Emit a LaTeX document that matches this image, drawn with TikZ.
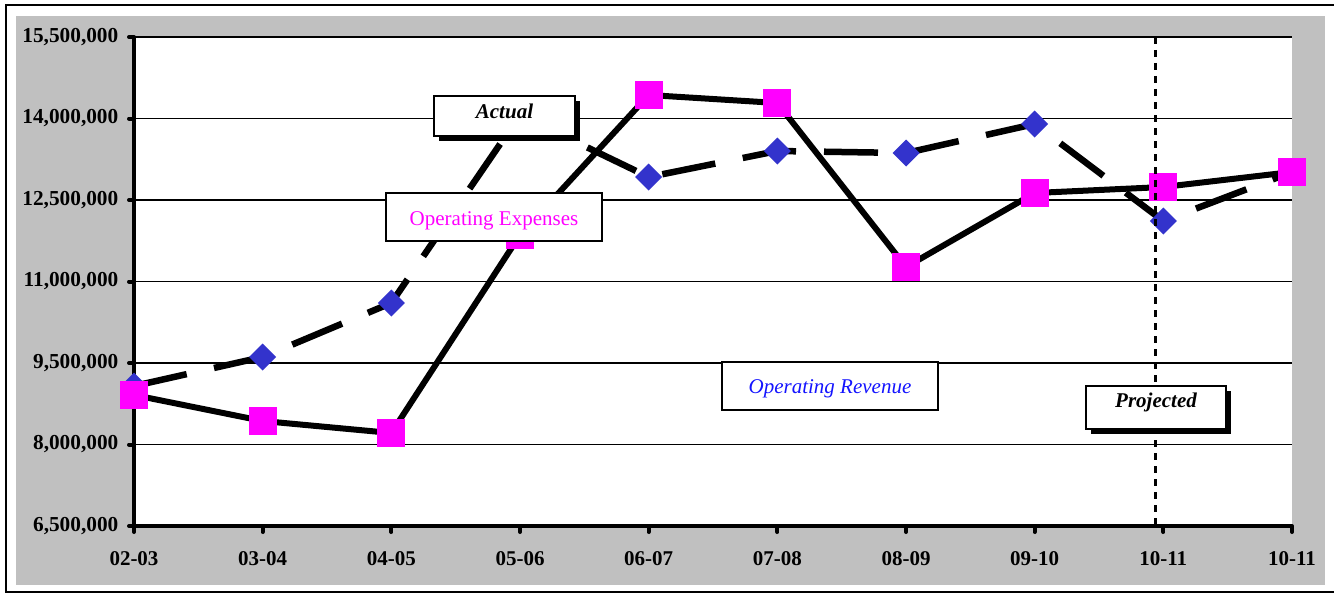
\documentclass[tikz,border=0pt]{standalone}
\usepackage{fontspec}
\setmainfont{Liberation Serif}
\usetikzlibrary{shapes.geometric,shadows}
\definecolor{pinkm}{RGB}{255,0,255}
\definecolor{diablue}{RGB}{51,51,204}
\definecolor{panelgray}{RGB}{192,192,192}
\definecolor{revtext}{RGB}{20,20,255}
\begin{document}
\begin{tikzpicture}[x=1pt,y=-1pt,
  expline/.style={line width=6pt,line join=round},
  revline/.style={line width=6.5pt,dash pattern=on 54pt off 28pt},
  sqmark/.style={rectangle,fill=pinkm,minimum size=28pt,inner sep=0pt,outer sep=0pt},
  diamark/.style={diamond,fill=diablue,minimum width=27pt,minimum height=27pt,inner sep=0pt,outer sep=0pt},
  gridline/.style={line width=1.8pt},
  axisline/.style={line width=4pt},
  tickmark/.style={line width=4pt,line cap=round},
  projline/.style={line width=3pt,dash pattern=on 7pt off 6pt},
  ylab/.style={anchor=east,font=\fontsize{21.3}{24}\selectfont\bfseries,inner sep=0pt},
  xlab/.style={font=\fontsize{21}{24}\selectfont\bfseries,inner sep=0pt},
  tagbox/.style={draw,line width=1.8pt,fill=white,inner sep=0pt},
  shadowbox/.style={tagbox,drop shadow={shadow xshift=5pt,shadow yshift=-5pt,opacity=1,fill=black}}
]
\useasboundingbox (0,0) rectangle (1334,594);
\clip (0,0) rectangle (1334,594);
\fill[white] (0,0) rectangle (1334,594);
\draw[line width=2.2pt] (6,5) rectangle (1340,592);
\fill[panelgray] (16,16) rectangle (1325,585);
\fill[white] (134,37) rectangle (1292,526);
% grid
\foreach \yy in {37,118.5,200,281.5,363,444.5}
  \draw[gridline] (134,\yy) -- (1292,\yy);
% axes
\coordinate (axtop) at (134,37);
\coordinate (axorig) at (134,526);
\coordinate (axright) at (1292,526);
\draw[axisline] (axtop) -- (axorig) -- (axright);
\foreach \yy in {37,118.5,200,281.5,363,444.5,526}
  \draw[tickmark] (129,\yy) -- (134,\yy);
\foreach \i in {0,...,9}
  \draw[tickmark] ({134+\i*128.667},526) -- ++(0,6);
% y labels
\node[ylab] (y1) at (118.5,37) {15,500,000};
\node[ylab] (y2) at (118.5,118.5) {14,000,000};
\node[ylab] (y3) at (118.5,200) {12,500,000};
\node[ylab] (y4) at (118.5,281.5) {11,000,000};
\node[ylab] (y5) at (118.5,363) {9,500,000};
\node[ylab] (y6) at (118.5,444.5) {8,000,000};
\node[ylab] (y7) at (118.5,526) {6,500,000};
% x labels
\node[xlab] (x0) at (134,559) {02-03};
\node[xlab] (x1) at (262.7,559) {03-04};
\node[xlab] (x2) at (391.3,559) {04-05};
\node[xlab] (x3) at (520,559) {05-06};
\node[xlab] (x4) at (648.7,559) {06-07};
\node[xlab] (x5) at (777.3,559) {07-08};
\node[xlab] (x6) at (906,559) {08-09};
\node[xlab] (x7) at (1034.7,559) {09-10};
\node[xlab] (x8) at (1163.3,559) {10-11};
\node[xlab] (x9) at (1292,559) {10-11};
% data points
\coordinate (pe0) at (134,395);
\coordinate (pe1) at (262.7,421);
\coordinate (pe2) at (391.3,433);
\coordinate (pe3) at (520,235);
\coordinate (pe4) at (648.7,95);
\coordinate (pe5) at (777.3,103);
\coordinate (pe6) at (906,267);
\coordinate (pe7) at (1034.7,193);
\coordinate (pe8) at (1163.3,187);
\coordinate (pe9) at (1292,172);
\coordinate (pr0) at (134,386);
\coordinate (pr1) at (262.7,357);
\coordinate (pr2) at (391.3,303);
\coordinate (pr3) at (520,115);
\coordinate (pr4) at (648.7,177);
\coordinate (pr5) at (777.3,151);
\coordinate (pr6) at (906,153);
\coordinate (pr7) at (1034.7,124);
\coordinate (pr8) at (1163.3,221);
\coordinate (pr9) at (1292,172);
% series lines
\draw[revline] (pr0) -- (pr1) -- (pr2) -- (pr3) -- (pr4) -- (pr5) -- (pr6) -- (pr7) -- (pr8) -- (pr9);
\draw[expline] (pe0) -- (pe1) -- (pe2) -- (pe3) -- (pe4) -- (pe5) -- (pe6) -- (pe7) -- (pe8) -- (pe9);
% markers
\foreach \i in {0,...,9}
  \node[diamark] (r\i) at (pr\i) {};
\foreach \i in {0,...,9}
  \node[sqmark] (e\i) at (pe\i) {};
% projection divider
\coordinate (projtop) at (1155,37);
\coordinate (projbot) at (1155,526);
\draw[projline] (projtop) -- (projbot);
% tags
\node[shadowbox,minimum width=141pt,minimum height=40pt,text height=10pt,text depth=6pt,
  font=\fontsize{21}{24}\selectfont\bfseries\itshape] (actual) at (504.5,116) {Actual};
\node[tagbox,minimum width=216pt,minimum height=48pt,text height=20pt,text depth=4pt,
  text=pinkm,font=\fontsize{21}{24}\selectfont] (opexp) at (494,217) {Operating Expenses};
\node[tagbox,minimum width=216pt,minimum height=48pt,text height=18pt,text depth=4pt,
  text=revtext,font=\fontsize{21}{24}\selectfont\itshape] (oprev) at (830,386) {Operating Revenue};
\node[shadowbox,minimum width=140pt,minimum height=43pt,text height=8pt,text depth=9pt,
  font=\fontsize{21}{24}\selectfont\bfseries\itshape] (projected) at (1156,407.5) {Projected};
\end{tikzpicture}
\end{document}
